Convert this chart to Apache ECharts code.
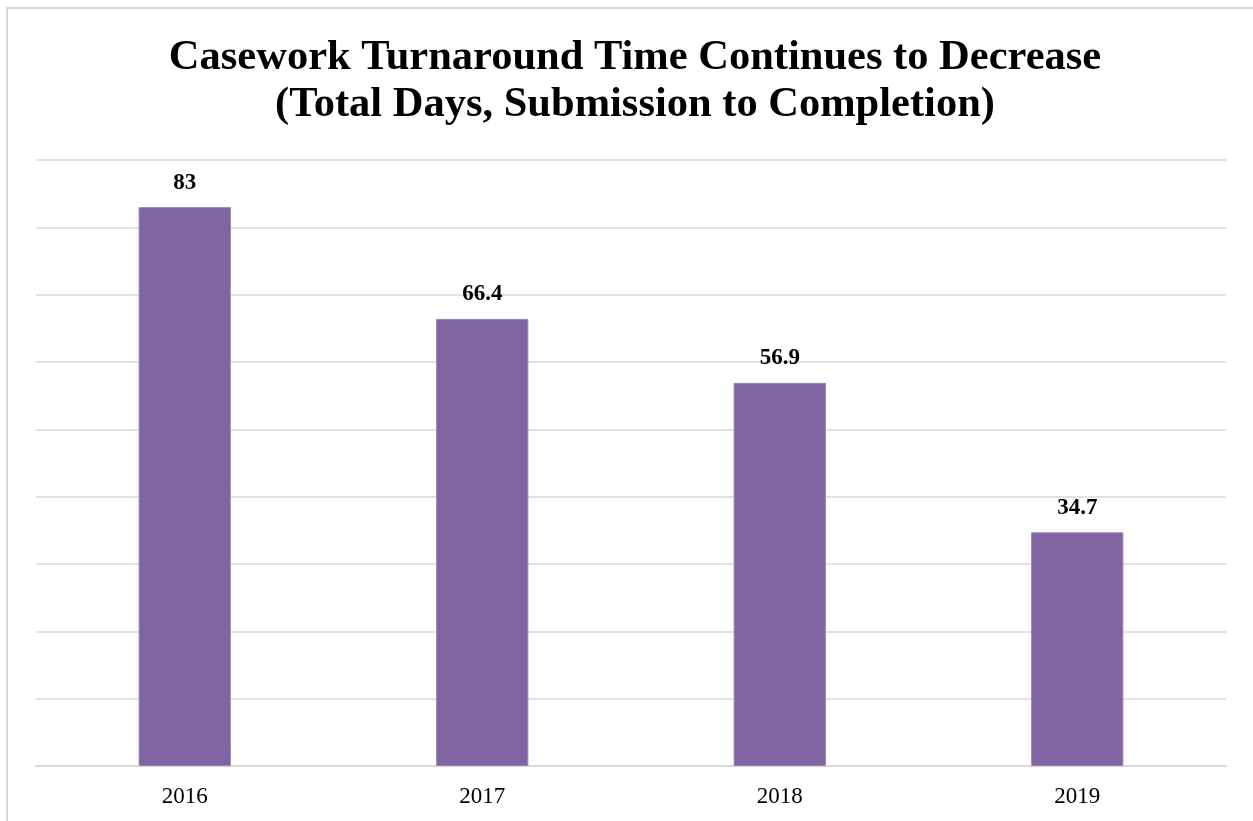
<!DOCTYPE html>
<html>
<head>
<meta charset="utf-8">
<script src="https://cdn.jsdelivr.net/npm/echarts@6/dist/echarts.min.js"></script>
<style>
  html, body { margin: 0; padding: 0; background: #ffffff; }
  #chart { width: 1253px; height: 821px; }
</style>
</head>
<body>
<div id="chart"></div>
<script>
// Casework turnaround, total days from submission to completion
const years = ['2016', '2017', '2018', '2019'];
const totalDays = [83, 66.4, 56.9, 34.7];

const chart = echarts.init(document.getElementById('chart'));
const serif = '"Liberation Serif", "Times New Roman", serif';

chart.setOption({
  animation: false,
  backgroundColor: '#ffffff',
  title: {
    text: 'Casework Turnaround Time Continues to Decrease\n(Total Days, Submission to Completion)',
    left: 630,
    textAlign: 'center',
    top: 30,
    textStyle: {
      fontFamily: serif,
      fontWeight: 'bold',
      fontSize: 42.5,
      lineHeight: 47,
      color: '#000000'
    }
  },
  graphic: [{
    type: 'rect',
    silent: true,
    shape: { x: 7, y: 8, width: 1400, height: 1000 },
    style: { fill: 'none', stroke: '#d9d9d9', lineWidth: 2 }
  }],
  grid: { left: 36, right: 27, top: 160, bottom: 55, containLabel: false },
  xAxis: {
    type: 'category',
    data: years,
    axisLine: { lineStyle: { color: '#d9d9d9', width: 2 } },
    axisTick: { show: false },
    axisLabel: { fontFamily: serif, fontSize: 23, color: '#000000', margin: 19 }
  },
  yAxis: {
    type: 'value',
    min: 0,
    max: 90,
    interval: 10,
    axisLine: { show: false },
    axisTick: { show: false },
    axisLabel: { show: false },
    splitLine: { lineStyle: { color: '#d9d9d9', width: 1.5 } }
  },
  series: [{
    type: 'bar',
    data: totalDays,
    barWidth: '31%',
    itemStyle: { color: '#8064a2', borderColor: '#9a80ba', borderWidth: 1 },
    label: {
      show: true,
      position: 'top',
      distance: 13,
      fontFamily: serif,
      fontWeight: 'bold',
      fontSize: 23,
      color: '#000000'
    }
  }]
});
</script>
</body>
</html>
